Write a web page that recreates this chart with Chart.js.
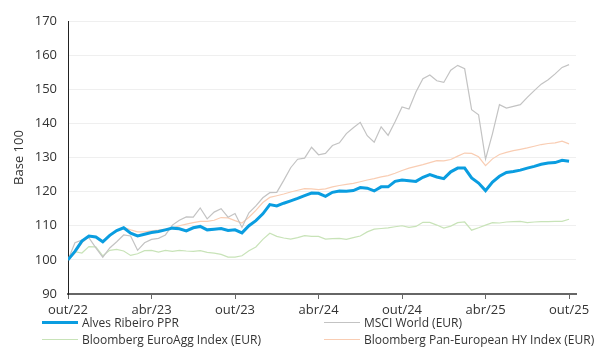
<!DOCTYPE html>
<html>
<head>
<meta charset="utf-8">
<script src="https://cdn.jsdelivr.net/npm/chart.js@4"></script>
<style>
body { margin: 0; background: #fff; }
#wrap { position: relative; width: 600px; height: 360px; }
#legend { position: absolute; left: 0; top: 0; width: 600px; height: 360px; pointer-events: none;
          font-family: "Open Sans", sans-serif; font-size: 12px; color: #333; }
.item { position: absolute; display: flex; align-items: center; white-space: nowrap; height: 16px; }
.swatch { display: inline-block; width: 36px; margin-right: 4px; }
</style>
</head>
<body>
<div id="wrap">
    <canvas id="chart" width="600" height="360"></canvas>
    <div id="legend"></div>
</div>
<script>
const tickLabels = ["out/22", "abr/23", "out/23", "abr/24", "out/24", "abr/25", "out/25"];

// one value every half month, out/22 .. out/25 (base 100)
const alves = [
    100, 102.5, 105.5, 107, 106.7, 105.3, 107.2, 108.6, 109.4, 107.8,
    107.0, 107.5, 108.0, 108.3, 108.8, 109.3, 109.1, 108.5, 109.4, 109.8,
    108.8, 109.0, 109.2, 108.6, 108.8, 107.9, 110.0, 111.5, 113.5, 116.2,
    115.8, 116.6, 117.3, 118.0, 118.8, 119.6, 119.5, 118.6, 119.8, 120.2,
    120.1, 120.3, 121.2, 121.0, 120.2, 121.4, 121.4, 123.0, 123.4, 123.2,
    123.0, 124.2, 125.0, 124.3, 123.8, 125.8, 126.9, 126.9, 124.0, 122.5,
    120.3, 122.8, 124.5, 125.6, 125.9, 126.3, 126.9, 127.4, 128.0, 128.4,
    128.5, 129.2, 128.9,
];
const msci = [
    100, 105.0, 105.8, 106.5, 103.5, 100.8, 103.5, 105.3, 107.3, 107.0,
    102.8, 105.0, 106.0, 106.3, 107.3, 110.2, 111.6, 112.6, 112.5, 115.2,
    112.0, 114.0, 115.0, 112.5, 113.6, 109.5, 113.8, 115.8, 118.2, 119.7,
    119.8, 123.3, 127.0, 129.5, 129.8, 133.0, 130.8, 131.2, 133.5, 134.3,
    137.0, 138.7, 140.3, 136.4, 134.5, 139.0, 136.5, 140.5, 144.8, 144.2,
    149.2, 153.1, 154.2, 152.5, 152.0, 155.6, 157.0, 156.0, 144.0, 142.5,
    129.5, 137.0, 145.5, 144.5, 145.0, 145.5, 147.6, 149.6, 151.5, 152.8,
    154.5, 156.4, 157.2,
];
const euroAgg = [
    100, 102.4, 102.0, 103.9, 103.8, 101.2, 102.8, 103.1, 102.6, 101.3,
    101.8, 102.7, 102.8, 102.3, 102.8, 102.5, 102.8, 102.6, 102.5, 102.7,
    102.2, 102.0, 101.6, 100.8, 100.8, 101.2, 102.7, 103.8, 106.0, 107.8,
    106.9, 106.4, 106.1, 106.5, 107.1, 106.9, 106.9, 106.1, 106.2, 106.3,
    106.0, 106.5, 107.0, 108.2, 109.0, 109.2, 109.4, 109.7, 110.0, 109.5,
    109.8, 111.0, 111.0, 110.2, 109.3, 109.9, 110.9, 111.1, 108.7, 109.4,
    110.2, 110.9, 110.8, 111.1, 111.2, 111.3, 110.9, 111.1, 111.2, 111.2,
    111.3, 111.3, 111.9,
];
const panEuroHY = [
    100, 102, 105, 106.8, 106.8, 105.5, 107, 108.6, 109.5, 108.8,
    108.2, 108.2, 108.5, 108.7, 109, 109.3, 110.0, 110.5, 110.9, 111.3,
    111.3, 111.6, 112.4, 112.3, 111.5, 110.8, 112.5, 114.5, 116.8, 118.3,
    118.8, 119.3, 119.9, 120.4, 120.9, 120.8, 120.6, 120.8, 121.4, 121.8,
    122.1, 122.4, 122.9, 123.4, 123.8, 124.3, 124.7, 125.4, 126.2, 126.9,
    127.4, 127.9, 128.5, 129.1, 129.0, 129.4, 130.4, 131.3, 131.2, 130.2,
    127.6, 129.6, 130.9, 131.5, 132.0, 132.4, 132.8, 133.3, 133.8, 134.1,
    134.3, 134.8, 134.0,
];

const fontFamily = '"Open Sans", sans-serif';
const toPoints = (arr) => arr.map((v, i) => ({ x: i, y: v }));

const chart = new Chart(document.getElementById("chart"), {
    type: "line",
    data: {
        datasets: [
            { label: "Alves Ribeiro PPR", data: toPoints(alves), borderColor: "#0a9de0", borderWidth: 3 },
            { label: "MSCI World (EUR)", data: toPoints(msci), borderColor: "#c3c3c3", borderWidth: 1.2 },
            { label: "Bloomberg EuroAgg Index (EUR)", data: toPoints(euroAgg), borderColor: "#c8e3b8", borderWidth: 1.2 },
            { label: "Bloomberg Pan-European HY Index (EUR)", data: toPoints(panEuroHY), borderColor: "#f9cdb3", borderWidth: 1.2 },
        ],
    },
    options: {
        responsive: false,
        animation: false,
        layout: { padding: { top: 21, right: 24, bottom: 30, left: 0 } },
        elements: {
            point: { radius: 0 },
            line: { tension: 0 },
        },
        plugins: {
            legend: { display: false },
            tooltip: { enabled: false },
        },
        scales: {
            x: {
                type: "linear",
                min: 0,
                max: 73,
                afterFit: (s) => { s.height = 36; },
                grid: { drawOnChartArea: false, drawTicks: true, tickLength: 5, color: "#666" },
                border: { color: "#666", width: 2 },
                ticks: {
                    stepSize: 12,
                    includeBounds: false,
                    autoSkip: false,
                    maxRotation: 0,
                    padding: 3,
                    color: "#333",
                    font: { family: fontFamily, size: 13 },
                    callback: (v) => tickLabels[v / 12],
                },
            },
            y: {
                min: 90,
                max: 170,
                afterFit: (s) => { s.width = 68; },
                grid: { color: "#efefef", drawTicks: false },
                border: { color: "#222", width: 1 },
                ticks: {
                    stepSize: 10,
                    padding: 11,
                    color: "#333",
                    font: { family: fontFamily, size: 13 },
                },
                title: {
                    display: true,
                    text: "Base 100",
                    color: "#333",
                    font: { family: fontFamily, size: 13 },
                    padding: { top: 11, bottom: 0 },
                },
            },
        },
    },
});

// legend in two columns under the plot
const legendPos = [[42, 314], [324, 314], [42, 331], [324, 331]];
const legend = document.getElementById("legend");
chart.data.datasets.forEach((ds, i) => {
    const item = document.createElement("div");
    item.className = "item";
    item.style.left = legendPos[i][0] + "px";
    item.style.top = legendPos[i][1] + "px";
    const sw = document.createElement("span");
    sw.className = "swatch";
    sw.style.borderTop = (ds.borderWidth > 2 ? 3 : 1.5) + "px solid " + ds.borderColor;
    item.appendChild(sw);
    item.appendChild(document.createTextNode(ds.label));
    legend.appendChild(item);
});
</script>
</body>
</html>
